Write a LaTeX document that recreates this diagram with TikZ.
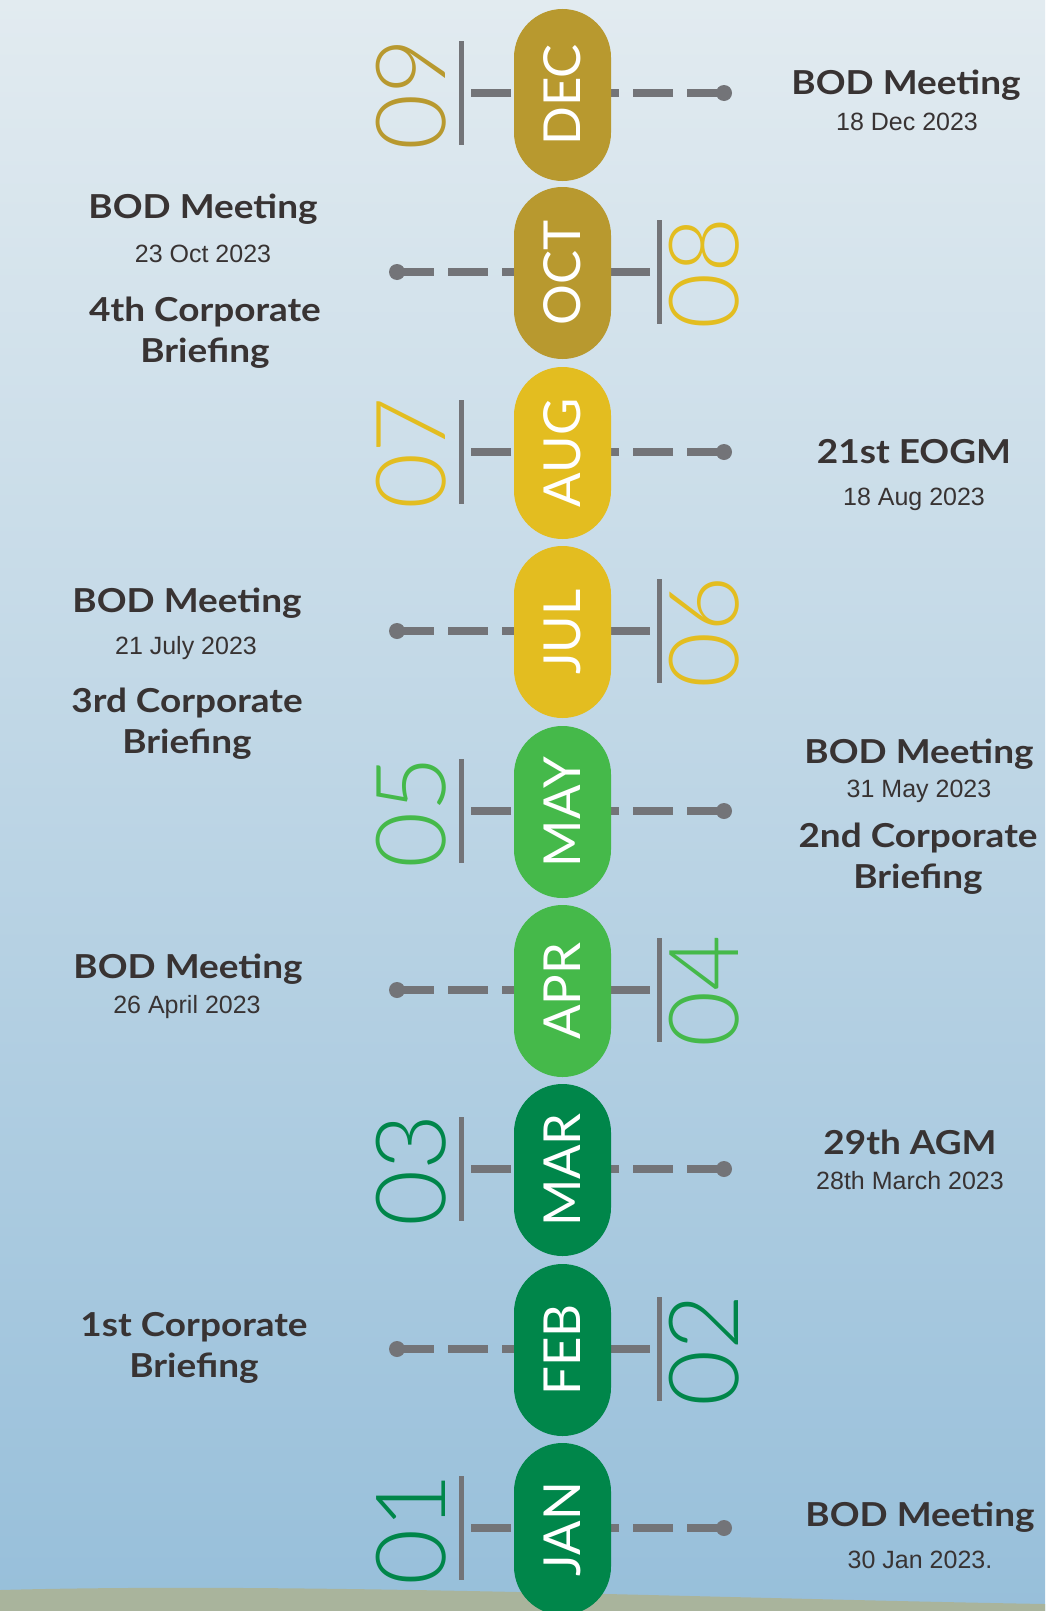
\documentclass[tikz,border=0pt]{standalone}
\usepackage{fontspec}
\setmainfont{Lato}
\newfontfamily\titlefont{Lato}[FakeStretch=1.12]
\newfontfamily\datefont{Liberation Sans}
\newfontfamily\digitfont{Lato Light}

\definecolor{mgold}{HTML}{B8992F}
\definecolor{myellow}{HTML}{E3BD20}
\definecolor{mlgreen}{HTML}{45B94A}
\definecolor{mdgreen}{HTML}{00864A}
\definecolor{rulegray}{HTML}{737478}
\definecolor{inkgray}{HTML}{383333}
\definecolor{skytop}{HTML}{E2EBF0}
\definecolor{skymid}{HTML}{A8C8DC}
\definecolor{skylow}{HTML}{97BFDA}
\definecolor{ground}{HTML}{A9B49C}

\tikzset{
  every picture/.style={x=1pt, y=-1pt},
  every node/.style={inner sep=0pt}}

\begin{document}
\begin{tikzpicture}
    \tikzstyle{month}=[rectangle, rounded corners=48.5pt, minimum width=172pt, minimum height=97pt,
      rotate=90, text=white, font=\fontsize{51}{51}\selectfont]
    \tikzstyle{digit}=[rotate=90, font=\digitfont\fontsize{97}{97}\selectfont]
    \tikzstyle{bar}=[rectangle, fill=rulegray, minimum width=5pt, minimum height=104pt]
    \tikzstyle{dot}=[circle, fill=rulegray, minimum size=16pt]
    \tikzstyle{leader}=[draw=rulegray, line width=8pt, dash pattern=on 40pt off 14pt, dash phase=3pt]
    % multi-line titles sit on the baseline of their last line
    \tikzstyle{title}=[anchor=base, text=inkgray, align=center, font=\titlefont\bfseries\fontsize{33}{41}\selectfont]
    \tikzstyle{when}=[anchor=base, text=inkgray, font=\datefont\fontsize{25}{25}\selectfont]

    % sky and a strip of land
    \shade[top color=skytop, middle color=skymid, bottom color=skylow] (0,0) rectangle (1045,1611);
    \useasboundingbox (0,0) rectangle (1045,1611);
    \fill[ground] (0,1611) -- (0,1590) .. controls (300,1582) and (700,1598) .. (1045,1604) -- (1045,1611) -- cycle;

    % December
    \node[bar] (bDEC) at (461,93) {};
    \node[dot] (dDEC) at (724,93) {};
    \draw[leader] (dDEC.center) -- (bDEC.center);
    \node[month, fill=mgold] (DEC) at (562.5,95) {DEC};
    \node[digit, text=mgold] (nDEC) at (411,94) {09};
    \node[title] (tDEC) at (906,95) {BOD Meeting};
    \node[when] (wDEC) at (907,130) {18 Dec 2023};

    % October
    \node[bar] (bOCT) at (659,272) {};
    \node[dot] (dOCT) at (397,272) {};
    \draw[leader] (dOCT.center) -- (bOCT.center);
    \node[month, fill=mgold] (OCT) at (562.5,273) {OCT};
    \node[digit, text=myellow] (nOCT) at (704,273) {08};
    \node[title] (tOCT) at (203,218) {BOD Meeting};
    \node[when] (wOCT) at (203,262) {23 Oct 2023};
    \node[title] (cOCT) at (205,362) {4th Corporate\\Briefing};

    % August
    \node[bar] (bAUG) at (461,452) {};
    \node[dot] (dAUG) at (724,452) {};
    \draw[leader] (dAUG.center) -- (bAUG.center);
    \node[month, fill=myellow] (AUG) at (562.5,453) {AUG};
    \node[digit, text=myellow] (nAUG) at (411,453) {07};
    \node[title] (tAUG) at (914,463) {21st EOGM};
    \node[when] (wAUG) at (914,505) {18 Aug 2023};

    % July
    \node[bar] (bJUL) at (659,631) {};
    \node[dot] (dJUL) at (397,631) {};
    \draw[leader] (dJUL.center) -- (bJUL.center);
    \node[month, fill=myellow] (JUL) at (562.5,632) {JUL};
    \node[digit, text=myellow] (nJUL) at (704,632) {06};
    \node[title] (tJUL) at (187,612) {BOD Meeting};
    \node[when] (wJUL) at (186,654) {21 July 2023};
    \node[title] (cJUL) at (187,753) {3rd Corporate\\Briefing};

    % May
    \node[bar] (bMAY) at (461,811) {};
    \node[dot] (dMAY) at (724,811) {};
    \draw[leader] (dMAY.center) -- (bMAY.center);
    \node[month, fill=mlgreen] (MAY) at (562.5,812) {MAY};
    \node[digit, text=mlgreen] (nMAY) at (411,812) {05};
    \node[title] (tMAY) at (919,763) {BOD Meeting};
    \node[when] (wMAY) at (919,797) {31 May 2023};
    \node[title] (cMAY) at (918,888) {2nd Corporate\\Briefing};

    % April
    \node[bar] (bAPR) at (659,990) {};
    \node[dot] (dAPR) at (397,990) {};
    \draw[leader] (dAPR.center) -- (bAPR.center);
    \node[month, fill=mlgreen] (APR) at (562.5,991) {APR};
    \node[digit, text=mlgreen] (nAPR) at (704,991) {04};
    \node[title] (tAPR) at (188,978) {BOD Meeting};
    \node[when] (wAPR) at (187,1013) {26 April 2023};

    % March
    \node[bar] (bMAR) at (461,1169) {};
    \node[dot] (dMAR) at (724,1169) {};
    \draw[leader] (dMAR.center) -- (bMAR.center);
    \node[month, fill=mdgreen] (MAR) at (562.5,1170) {MAR};
    \node[digit, text=mdgreen] (nMAR) at (411,1170) {03};
    \node[title] (tMAR) at (910,1154) {29th AGM};
    \node[when] (wMAR) at (910,1189) {28th March 2023};

    % February
    \node[bar] (bFEB) at (659,1349) {};
    \node[dot] (dFEB) at (397,1349) {};
    \draw[leader] (dFEB.center) -- (bFEB.center);
    \node[month, fill=mdgreen] (FEB) at (562.5,1350) {FEB};
    \node[digit, text=mdgreen] (nFEB) at (704,1350) {02};
    \node[title] (cFEB) at (194,1377) {1st Corporate\\Briefing};

    % January
    \node[bar] (bJAN) at (461,1528) {};
    \node[dot] (dJAN) at (724,1528) {};
    \draw[leader] (dJAN.center) -- (bJAN.center);
    \node[month, fill=mdgreen] (JAN) at (562.5,1529) {JAN};
    \node[digit, text=mdgreen] (nJAN) at (411,1529) {01};
    \node[title] (tJAN) at (920,1526) {BOD Meeting};
    \node[when] (wJAN) at (920,1568) {30 Jan 2023.};
\end{tikzpicture}
\end{document}
